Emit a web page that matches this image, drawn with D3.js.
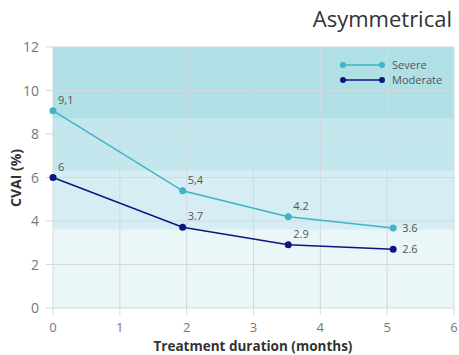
<!DOCTYPE html>
<html><head><meta charset="utf-8">
<script src="https://cdn.jsdelivr.net/npm/d3@7"></script>
<style>body{margin:0;background:#fff;} text{font-family:"Open Sans",sans-serif;}</style>
</head><body><svg id="c" width="459" height="355"></svg>
<script>
const months = [0, 1.94, 3.52, 5.09];
const severe = [9.07, 5.39, 4.2, 3.68];
const moderate = [6.0, 3.71, 2.91, 2.7];
const severeLabels = ["9,1", "5,4", "4.2", "3.6"];
const moderateLabels = ["6", "3.7", "2.9", "2.6"];
const bandEdges = [0, 3.6, 6.3, 8.7, 12];
const bandColors = ["#eaf6f8", "#d6eef3", "#c4e7ee", "#b0dfe6"];
const xTicks = [0,1,2,3,4,5,6];
const yTicks = [0,2,4,6,8,10,12];

const svg = d3.select("#c");
const x = d3.scaleLinear().domain([0,6]).range([53,454]);
const y = d3.scaleLinear().domain([0,12]).range([308,47]);

svg.append("text").attr("x",452).attr("y",27).attr("text-anchor","end")
  .attr("font-size",22).attr("fill","#333").text("Asymmetrical");

for (let i=0;i<bandColors.length;i++){
  svg.append("rect").attr("x",x(0)).attr("width",x(6)-x(0))
    .attr("y",y(bandEdges[i+1])).attr("height",y(bandEdges[i])-y(bandEdges[i+1]))
    .attr("fill",bandColors[i]);
}
svg.append("g").selectAll("line").data(xTicks).join("line")
  .attr("x1",d=>x(d)).attr("x2",d=>x(d)).attr("y1",y(12)).attr("y2",y(0)+7)
  .attr("stroke","#d3d9de").attr("stroke-width",1);
svg.append("g").selectAll("line").data(yTicks).join("line")
  .attr("x1",x(0)-7).attr("x2",x(6)).attr("y1",d=>y(d)).attr("y2",d=>y(d))
  .attr("stroke","#d3d9de").attr("stroke-width",1);

svg.append("g").selectAll("text").data(xTicks).join("text")
  .attr("x",d=>x(d)).attr("y",y(0)+24).attr("text-anchor","middle")
  .attr("font-size",13).attr("fill","#777").text(d=>d);
svg.append("g").selectAll("text").data(yTicks).join("text")
  .attr("x",x(0)-14).attr("y",d=>y(d)+5).attr("text-anchor","end")
  .attr("font-size",14).attr("fill","#777").text(d=>d);

svg.append("text").attr("x",253).attr("y",351).attr("text-anchor","middle")
  .attr("font-size",13.5).attr("font-weight","bold").attr("fill","#333").text("Treatment duration (months)");
svg.append("text").attr("transform","translate(21,178) rotate(-90)").attr("text-anchor","middle")
  .attr("font-size",14).attr("font-weight","bold").attr("fill","#333").text("CVAI (%)");

const line = d3.line().x(d=>x(d[0])).y(d=>y(d[1]));
function series(vals, labels, color){
  const pts = months.map((m,i)=>[m, vals[i]]);
  svg.append("path").datum(pts).attr("d",line).attr("fill","none")
    .attr("stroke",color).attr("stroke-width",1.5);
  svg.append("g").selectAll("circle").data(pts).join("circle")
    .attr("cx",d=>x(d[0])).attr("cy",d=>y(d[1])).attr("r",3.5).attr("fill",color);
  svg.append("g").selectAll("text").data(pts).join("text")
    .attr("x",(d,i)=> i===3 ? x(d[0])+9 : x(d[0])+5)
    .attr("y",(d,i)=> i===3 ? y(d[1])+4 : y(d[1])-7)
    .attr("font-size",11).attr("fill","#555").text((d,i)=>labels[i]);
}
series(severe, severeLabels, "#3bb5c7");
series(moderate, moderateLabels, "#0b1780");

const legend = [["Severe","#3bb5c7",65],["Moderate","#0b1780",80]];
legend.forEach(([name,color,ly])=>{
  svg.append("line").attr("x1",343).attr("x2",382).attr("y1",ly).attr("y2",ly)
    .attr("stroke",color).attr("stroke-width",1.5);
  svg.append("circle").attr("cx",343).attr("cy",ly).attr("r",3).attr("fill",color);
  svg.append("circle").attr("cx",382).attr("cy",ly).attr("r",3).attr("fill",color);
  svg.append("text").attr("x",392).attr("y",ly+4).attr("font-size",11).attr("fill","#555").text(name);
});
</script></body></html>
